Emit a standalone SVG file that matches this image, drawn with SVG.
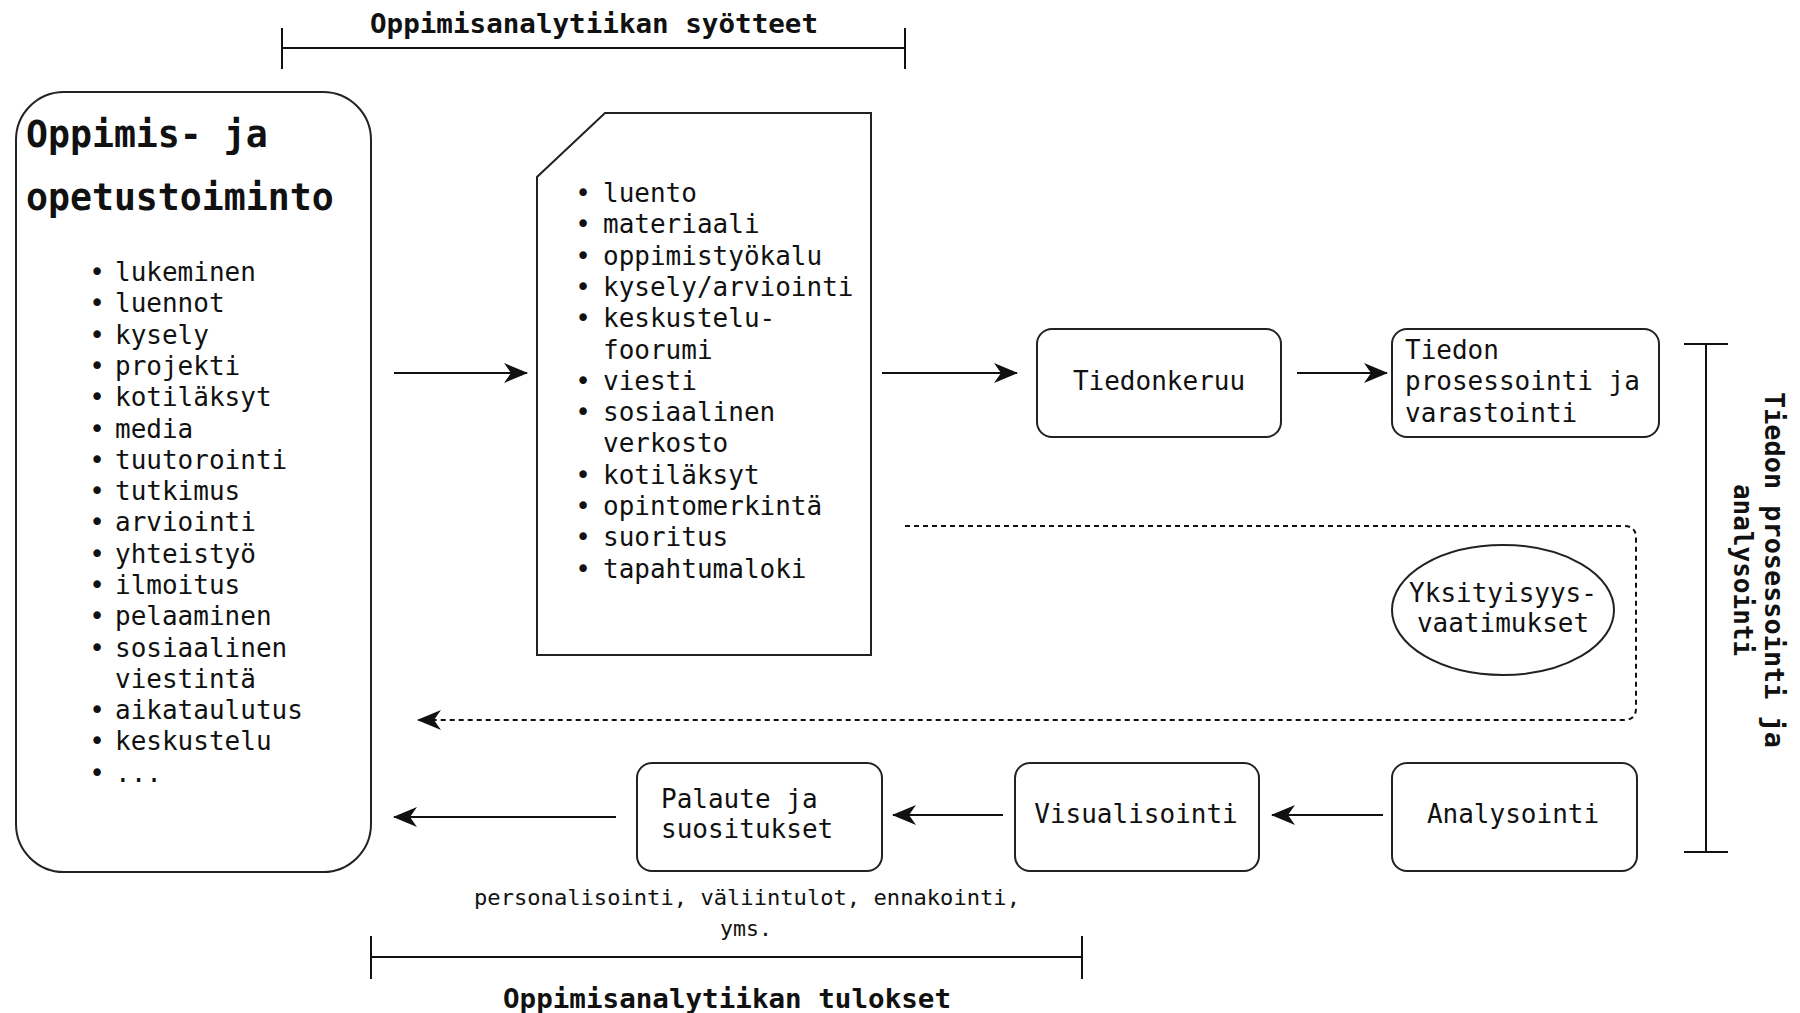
<svg xmlns="http://www.w3.org/2000/svg" width="1800" height="1013" viewBox="0 0 1800 1013">
  <style>
    .t { font-family: "DejaVu Sans Mono", "Liberation Mono", monospace; fill: #111; }
    .list { font-size: 26px; }
    .lbl { font-size: 26px; }
    .b { text-anchor: middle; }
    .title { font-size: 36.5px; font-weight: bold; }
    .head { font-size: 26px; font-weight: bold; text-anchor: middle; }
    .cap { font-size: 21.5px; text-anchor: middle; }
    .box { fill: #fff; stroke: #222; stroke-width: 2; }
    .line { fill: none; stroke: #111; stroke-width: 2; }
    .dash { fill: none; stroke: #111; stroke-width: 2; stroke-dasharray: 5 4; }
  </style>
  <defs>
    <marker id="arrow" viewBox="0 0 24 22" refX="23" refY="11" markerWidth="24" markerHeight="22" markerUnits="userSpaceOnUse" orient="auto">
      <path d="M0,1 L24,11 L0,21 L7,11 Z" fill="#111"/>
    </marker>
  </defs>

  <rect width="1800" height="1013" fill="#fff"/>

  <!-- bracket: inputs -->
  <g id="inputs-bracket">
    <line class="line" x1="282" y1="48" x2="905" y2="48"/>
    <line class="line" x1="282" y1="28" x2="282" y2="69"/>
    <line class="line" x1="905" y1="28" x2="905" y2="69"/>
    <text class="t head" x="594" y="33" textLength="448" lengthAdjust="spacingAndGlyphs">Oppimisanalytiikan syötteet</text>
  </g>

  <!-- learning and teaching activity -->
  <g id="activity">
    <rect class="box" x="16" y="92" width="355" height="780" rx="48" ry="48"/>
    <text class="t title" x="26" y="147">Oppimis- ja</text>
    <text class="t title" x="26" y="210">opetustoiminto</text>
    <g class="t list">
      <text y="281"><tspan class="b" x="97">•</tspan><tspan x="115">lukeminen</tspan></text>
      <text y="312"><tspan class="b" x="97">•</tspan><tspan x="115">luennot</tspan></text>
      <text y="344"><tspan class="b" x="97">•</tspan><tspan x="115">kysely</tspan></text>
      <text y="375"><tspan class="b" x="97">•</tspan><tspan x="115">projekti</tspan></text>
      <text y="406"><tspan class="b" x="97">•</tspan><tspan x="115">kotiläksyt</tspan></text>
      <text y="438"><tspan class="b" x="97">•</tspan><tspan x="115">media</tspan></text>
      <text y="469"><tspan class="b" x="97">•</tspan><tspan x="115">tuutorointi</tspan></text>
      <text y="500"><tspan class="b" x="97">•</tspan><tspan x="115">tutkimus</tspan></text>
      <text y="531"><tspan class="b" x="97">•</tspan><tspan x="115">arviointi</tspan></text>
      <text y="563"><tspan class="b" x="97">•</tspan><tspan x="115">yhteistyö</tspan></text>
      <text y="594"><tspan class="b" x="97">•</tspan><tspan x="115">ilmoitus</tspan></text>
      <text y="625"><tspan class="b" x="97">•</tspan><tspan x="115">pelaaminen</tspan></text>
      <text y="657"><tspan class="b" x="97">•</tspan><tspan x="115">sosiaalinen</tspan></text>
      <text y="688"><tspan x="115">viestintä</tspan></text>
      <text y="719"><tspan class="b" x="97">•</tspan><tspan x="115">aikataulutus</tspan></text>
      <text y="750"><tspan class="b" x="97">•</tspan><tspan x="115">keskustelu</tspan></text>
      <text y="782"><tspan class="b" x="97">•</tspan><tspan x="115">...</tspan></text>
    </g>
  </g>

  <!-- data sources document -->
  <g id="sources">
    <polygon class="box" points="605,113 871,113 871,655 537,655 537,177"/>
    <g class="t list">
      <text y="202"><tspan class="b" x="583">•</tspan><tspan x="603">luento</tspan></text>
      <text y="233"><tspan class="b" x="583">•</tspan><tspan x="603">materiaali</tspan></text>
      <text y="265"><tspan class="b" x="583">•</tspan><tspan x="603">oppimistyökalu</tspan></text>
      <text y="296"><tspan class="b" x="583">•</tspan><tspan x="603">kysely/arviointi</tspan></text>
      <text y="327"><tspan class="b" x="583">•</tspan><tspan x="603">keskustelu-</tspan></text>
      <text y="359"><tspan x="603">foorumi</tspan></text>
      <text y="390"><tspan class="b" x="583">•</tspan><tspan x="603">viesti</tspan></text>
      <text y="421"><tspan class="b" x="583">•</tspan><tspan x="603">sosiaalinen</tspan></text>
      <text y="452"><tspan x="603">verkosto</tspan></text>
      <text y="484"><tspan class="b" x="583">•</tspan><tspan x="603">kotiläksyt</tspan></text>
      <text y="515"><tspan class="b" x="583">•</tspan><tspan x="603">opintomerkintä</tspan></text>
      <text y="546"><tspan class="b" x="583">•</tspan><tspan x="603">suoritus</tspan></text>
      <text y="578"><tspan class="b" x="583">•</tspan><tspan x="603">tapahtumaloki</tspan></text>
    </g>
  </g>

  <g id="collection">
    <rect class="box" x="1037" y="329" width="244" height="108" rx="15" ry="15"/>
    <text class="t lbl" x="1159" y="390" text-anchor="middle">Tiedonkeruu</text>
  </g>

  <g id="processing">
    <rect class="box" x="1392" y="329" width="267" height="108" rx="15" ry="15"/>
    <text class="t lbl" x="1405" y="359">Tiedon</text>
    <text class="t lbl" x="1405" y="390">prosessointi ja</text>
    <text class="t lbl" x="1405" y="422">varastointi</text>
  </g>

  <g id="privacy">
    <ellipse class="box" cx="1503" cy="610" rx="111" ry="65"/>
    <text class="t lbl" x="1503" y="602" text-anchor="middle">Yksityisyys-</text>
    <text class="t lbl" x="1503" y="632" text-anchor="middle">vaatimukset</text>
  </g>

  <g id="analysis">
    <rect class="box" x="1392" y="763" width="245" height="108" rx="15" ry="15"/>
    <text class="t lbl" x="1513" y="823" text-anchor="middle">Analysointi</text>
  </g>

  <g id="visualisation">
    <rect class="box" x="1015" y="763" width="244" height="108" rx="15" ry="15"/>
    <text class="t lbl" x="1136" y="823" text-anchor="middle">Visualisointi</text>
  </g>

  <g id="feedback">
    <rect class="box" x="637" y="763" width="245" height="108" rx="15" ry="15"/>
    <text class="t lbl" x="661" y="808">Palaute ja</text>
    <text class="t lbl" x="661" y="838">suositukset</text>
  </g>

  <g id="feedback-note">
    <text class="t cap" x="747" y="905" textLength="546" lengthAdjust="spacingAndGlyphs">personalisointi, väliintulot, ennakointi,</text>
    <text class="t cap" x="746" y="936">yms.</text>
  </g>

  <!-- bracket: processing and analysis -->
  <g id="analysis-bracket">
    <line class="line" x1="1706" y1="344" x2="1706" y2="852"/>
    <line class="line" x1="1684" y1="344" x2="1728" y2="344"/>
    <line class="line" x1="1684" y1="852" x2="1728" y2="852"/>
    <g transform="translate(1765,570) rotate(90)">
      <text class="t head" x="0" y="0" textLength="356" lengthAdjust="spacingAndGlyphs">Tiedon prosessointi ja</text>
      <text class="t head" x="0" y="31">analysointi</text>
    </g>
  </g>

  <!-- bracket: outcomes -->
  <g id="outcomes-bracket">
    <line class="line" x1="371" y1="957" x2="1082" y2="957"/>
    <line class="line" x1="371" y1="936" x2="371" y2="979"/>
    <line class="line" x1="1082" y1="936" x2="1082" y2="979"/>
    <text class="t head" x="727" y="1008" textLength="448" lengthAdjust="spacingAndGlyphs">Oppimisanalytiikan tulokset</text>
  </g>

  <g id="connectors">
    <line class="line" x1="394" y1="373" x2="527" y2="373" marker-end="url(#arrow)"/>
    <line class="line" x1="882" y1="373" x2="1017" y2="373" marker-end="url(#arrow)"/>
    <line class="line" x1="1297" y1="373" x2="1387" y2="373" marker-end="url(#arrow)"/>
    <path class="dash" d="M905,526 H1624 Q1636,526 1636,538 V708 Q1636,720 1624,720 H418" marker-end="url(#arrow)"/>
    <line class="line" x1="1383" y1="815" x2="1272" y2="815" marker-end="url(#arrow)"/>
    <line class="line" x1="1003" y1="815" x2="893" y2="815" marker-end="url(#arrow)"/>
    <line class="line" x1="616" y1="817" x2="394" y2="817" marker-end="url(#arrow)"/>
  </g>
</svg>
